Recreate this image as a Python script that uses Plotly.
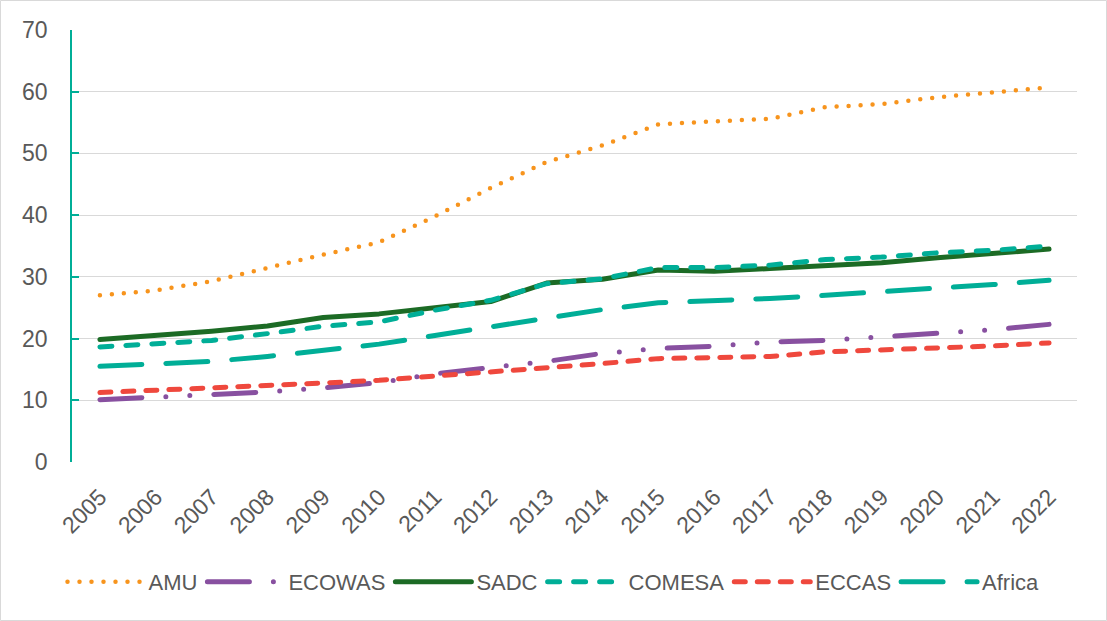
import plotly.graph_objects as go

years = [str(y) for y in range(2005, 2023)]

amu = [27.0, 27.8, 29.3, 31.5, 33.6, 35.6, 39.8, 44.4, 48.6, 51.3,
       54.7, 55.2, 55.6, 57.5, 58.0, 59.1, 59.9, 60.7]
ecowas = [10.1, 10.5, 10.8, 11.35, 12.0, 12.85, 14.3, 15.2, 16.3, 17.6,
          18.4, 18.75, 19.45, 19.7, 20.3, 21.0, 21.45, 22.3]
sadc = [19.85, 20.5, 21.2, 22.05, 23.4, 24.0, 25.1, 26.0, 29.0, 29.6,
        31.1, 30.9, 31.35, 31.8, 32.3, 33.1, 33.8, 34.5]
comesa = [18.65, 19.2, 19.7, 20.8, 22.0, 22.7, 24.6, 26.2, 28.9, 29.7,
          31.5, 31.5, 31.9, 32.8, 33.2, 33.9, 34.3, 35.0]
eccas = [11.25, 11.6, 11.95, 12.4, 12.8, 13.25, 13.9, 14.6, 15.1, 15.95,
         16.75, 16.85, 17.1, 17.85, 18.1, 18.55, 18.8, 19.3]
africa = [15.5, 15.8, 16.3, 17.1, 18.1, 19.1, 20.5, 21.9, 23.5, 24.7,
          25.8, 26.1, 26.5, 27.0, 27.5, 28.2, 28.75, 29.45]

series = [
    ("AMU", amu, "#F7941D", 4.5, "0px,12px"),
    ("ECOWAS", ecowas, "#8850A0", 5, "42px,24px,0px,24px,0px,24px"),
    ("SADC", sadc, "#1C6B25", 5, "solid"),
    ("COMESA", comesa, "#00AE97", 5, "12px,14px"),
    ("ECCAS", eccas, "#EF483D", 5, "11px,12px"),
    ("Africa", africa, "#00AE97", 5, "42px,24px"),
]

fig = go.Figure()
for name, vals, color, width, dash in series:
    fig.add_trace(go.Scatter(
        x=years, y=vals, name=name, mode="lines",
        line=dict(color=color, width=width, dash=dash),
    ))

W, H = 1107, 621
ml, mr, mt, mb = 72, 30, 30, 159
pw, ph = W - ml - mr, H - mt - mb

fig.update_layout(
    width=W, height=H,
    margin=dict(l=ml, r=mr, t=mt, b=mb, pad=0, autoexpand=False),
    paper_bgcolor="white", plot_bgcolor="white",
    font=dict(family="Liberation Sans, Arial, sans-serif", size=22, color="#595959"),
    showlegend=True,
    legend=dict(
        orientation="h", xref="container", yref="container",
        x=0.5, xanchor="center", y=0.063, yanchor="middle",
        font=dict(size=22, color="#595959"),
        itemwidth=76, traceorder="normal",
    ),
    xaxis=dict(
        type="category", range=[-0.5, len(years) - 0.5],
        showgrid=False, showline=False, ticks="",
        tickangle=-45, tickfont=dict(size=23, color="#595959"),
        ticklabelstandoff=16, zeroline=False,
    ),
    yaxis=dict(
        range=[0, 70], dtick=10, showgrid=True, gridcolor="#D9D9D9", gridwidth=1,
        showline=True, linecolor="#00AE97", linewidth=1.5,
        ticks="inside", ticklen=7, tickcolor="#00AE97", tickwidth=1.5,
        tickfont=dict(size=23, color="#595959"), ticklabelstandoff=18,
        zeroline=False,
    ),
    shapes=[dict(
        type="rect", xref="paper", yref="paper",
        x0=(0.5 - ml) / pw, x1=(W - 0.5 - ml) / pw,
        y0=-(mb - 0.5) / ph, y1=(ph + mt - 0.5) / ph,
        line=dict(color="#D9D9D9", width=1), layer="below",
    )],
)

round_caps = """
var gd = document.getElementById('{plot_id}');
function roundCaps() {
  document.querySelectorAll('path.js-line').forEach(function (p) {
    p.style.strokeLinecap = 'round';
    p.style.strokeLinejoin = 'round';
  });
}
roundCaps();
gd.on('plotly_afterplot', roundCaps);
setTimeout(roundCaps, 50);
"""

fig.write_html("out.html", post_script=round_caps)
